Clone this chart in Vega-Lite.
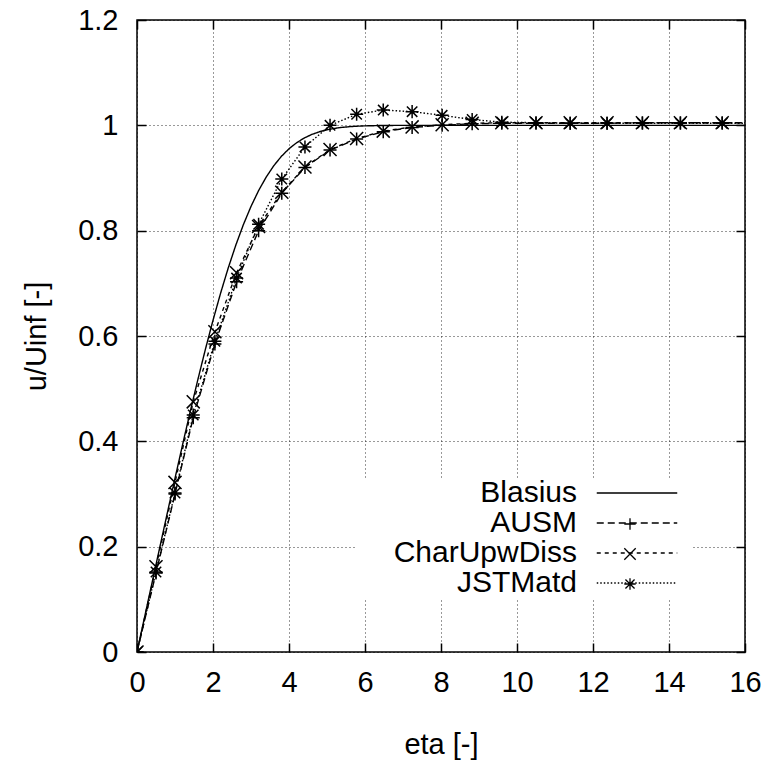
{
  "$schema": "https://vega.github.io/schema/vega-lite/v6.json",
  "width": 608,
  "height": 632,
  "autosize": {"type": "none"},
  "padding": {"left": 137, "top": 20, "right": 21, "bottom": 112},
  "background": "white",
  "config": {
    "view": {"stroke": "black", "strokeWidth": 1.5},
    "font": "Liberation Sans",
    "axis": {
      "domain": false,
      "labelFont": "Liberation Sans",
      "titleFont": "Liberation Sans",
      "labelFontSize": 29,
      "titleFontSize": 29,
      "titleFontWeight": "normal",
      "labelColor": "black",
      "titleColor": "black",
      "tickColor": "black",
      "tickWidth": 1.5,
      "tickSize": -9,
      "gridColor": "#000",
      "gridOpacity": 0.8,
      "gridDash": [1, 3],
      "gridWidth": 1
    },
    "legend": {
      "labelFont": "Liberation Sans",
      "labelColor": "black",
      "labelLimit": 0
    }
  },
  "data": {
    "values": [
      {"eta": 0, "u": 0, "series": "Blasius"},
      {"eta": 0.2, "u": 0.06641, "series": "Blasius"},
      {"eta": 0.4, "u": 0.13277, "series": "Blasius"},
      {"eta": 0.6, "u": 0.19894, "series": "Blasius"},
      {"eta": 0.8, "u": 0.26471, "series": "Blasius"},
      {"eta": 1.0, "u": 0.32979, "series": "Blasius"},
      {"eta": 1.2, "u": 0.39378, "series": "Blasius"},
      {"eta": 1.4, "u": 0.45627, "series": "Blasius"},
      {"eta": 1.6, "u": 0.51676, "series": "Blasius"},
      {"eta": 1.8, "u": 0.57477, "series": "Blasius"},
      {"eta": 2.0, "u": 0.62977, "series": "Blasius"},
      {"eta": 2.2, "u": 0.68132, "series": "Blasius"},
      {"eta": 2.4, "u": 0.72899, "series": "Blasius"},
      {"eta": 2.6, "u": 0.77246, "series": "Blasius"},
      {"eta": 2.8, "u": 0.81152, "series": "Blasius"},
      {"eta": 3.0, "u": 0.84605, "series": "Blasius"},
      {"eta": 3.2, "u": 0.87609, "series": "Blasius"},
      {"eta": 3.4, "u": 0.90177, "series": "Blasius"},
      {"eta": 3.6, "u": 0.92333, "series": "Blasius"},
      {"eta": 3.8, "u": 0.94112, "series": "Blasius"},
      {"eta": 4.0, "u": 0.95552, "series": "Blasius"},
      {"eta": 4.2, "u": 0.96696, "series": "Blasius"},
      {"eta": 4.4, "u": 0.97587, "series": "Blasius"},
      {"eta": 4.6, "u": 0.98269, "series": "Blasius"},
      {"eta": 4.8, "u": 0.98779, "series": "Blasius"},
      {"eta": 5.0, "u": 0.99155, "series": "Blasius"},
      {"eta": 5.2, "u": 0.99425, "series": "Blasius"},
      {"eta": 5.4, "u": 0.99616, "series": "Blasius"},
      {"eta": 5.6, "u": 0.99748, "series": "Blasius"},
      {"eta": 5.8, "u": 0.99838, "series": "Blasius"},
      {"eta": 6.0, "u": 0.99898, "series": "Blasius"},
      {"eta": 6.4, "u": 0.99961, "series": "Blasius"},
      {"eta": 6.8, "u": 0.99987, "series": "Blasius"},
      {"eta": 7.2, "u": 0.99996, "series": "Blasius"},
      {"eta": 8.0, "u": 1.0, "series": "Blasius"},
      {"eta": 16.0, "u": 1.0, "series": "Blasius"},

      {"eta": 0, "u": 0, "series": "AUSM"},
      {"eta": 0.5, "u": 0.150, "series": "AUSM"},
      {"eta": 1.0, "u": 0.300, "series": "AUSM"},
      {"eta": 1.48, "u": 0.445, "series": "AUSM"},
      {"eta": 2.05, "u": 0.585, "series": "AUSM"},
      {"eta": 2.62, "u": 0.703, "series": "AUSM"},
      {"eta": 3.2, "u": 0.800, "series": "AUSM"},
      {"eta": 3.81, "u": 0.871, "series": "AUSM"},
      {"eta": 4.42, "u": 0.920, "series": "AUSM"},
      {"eta": 5.08, "u": 0.953, "series": "AUSM"},
      {"eta": 5.78, "u": 0.974, "series": "AUSM"},
      {"eta": 6.48, "u": 0.988, "series": "AUSM"},
      {"eta": 7.24, "u": 0.996, "series": "AUSM"},
      {"eta": 8.03, "u": 1.000, "series": "AUSM"},
      {"eta": 8.82, "u": 1.003, "series": "AUSM"},
      {"eta": 9.6, "u": 1.004, "series": "AUSM"},
      {"eta": 10.5, "u": 1.004, "series": "AUSM"},
      {"eta": 11.4, "u": 1.004, "series": "AUSM"},
      {"eta": 12.37, "u": 1.004, "series": "AUSM"},
      {"eta": 13.3, "u": 1.005, "series": "AUSM"},
      {"eta": 14.3, "u": 1.005, "series": "AUSM"},
      {"eta": 15.4, "u": 1.005, "series": "AUSM"},
      {"eta": 16.5, "u": 1.005, "series": "AUSM"},

      {"eta": 0, "u": 0, "series": "CharUpwDiss"},
      {"eta": 0.5, "u": 0.162, "series": "CharUpwDiss"},
      {"eta": 1.0, "u": 0.322, "series": "CharUpwDiss"},
      {"eta": 1.48, "u": 0.475, "series": "CharUpwDiss"},
      {"eta": 2.05, "u": 0.608, "series": "CharUpwDiss"},
      {"eta": 2.62, "u": 0.720, "series": "CharUpwDiss"},
      {"eta": 3.2, "u": 0.808, "series": "CharUpwDiss"},
      {"eta": 3.81, "u": 0.873, "series": "CharUpwDiss"},
      {"eta": 4.42, "u": 0.921, "series": "CharUpwDiss"},
      {"eta": 5.08, "u": 0.954, "series": "CharUpwDiss"},
      {"eta": 5.78, "u": 0.975, "series": "CharUpwDiss"},
      {"eta": 6.48, "u": 0.989, "series": "CharUpwDiss"},
      {"eta": 7.24, "u": 0.997, "series": "CharUpwDiss"},
      {"eta": 8.03, "u": 1.001, "series": "CharUpwDiss"},
      {"eta": 8.82, "u": 1.004, "series": "CharUpwDiss"},
      {"eta": 9.6, "u": 1.005, "series": "CharUpwDiss"},
      {"eta": 10.5, "u": 1.005, "series": "CharUpwDiss"},
      {"eta": 11.4, "u": 1.005, "series": "CharUpwDiss"},
      {"eta": 12.37, "u": 1.005, "series": "CharUpwDiss"},
      {"eta": 13.3, "u": 1.005, "series": "CharUpwDiss"},
      {"eta": 14.3, "u": 1.005, "series": "CharUpwDiss"},
      {"eta": 15.4, "u": 1.005, "series": "CharUpwDiss"},
      {"eta": 16.5, "u": 1.005, "series": "CharUpwDiss"},

      {"eta": 0, "u": 0, "series": "JSTMatd"},
      {"eta": 0.5, "u": 0.152, "series": "JSTMatd"},
      {"eta": 1.0, "u": 0.302, "series": "JSTMatd"},
      {"eta": 1.48, "u": 0.450, "series": "JSTMatd"},
      {"eta": 2.05, "u": 0.590, "series": "JSTMatd"},
      {"eta": 2.62, "u": 0.710, "series": "JSTMatd"},
      {"eta": 3.2, "u": 0.812, "series": "JSTMatd"},
      {"eta": 3.81, "u": 0.898, "series": "JSTMatd"},
      {"eta": 4.42, "u": 0.959, "series": "JSTMatd"},
      {"eta": 5.08, "u": 1.000, "series": "JSTMatd"},
      {"eta": 5.78, "u": 1.021, "series": "JSTMatd"},
      {"eta": 6.48, "u": 1.029, "series": "JSTMatd"},
      {"eta": 7.24, "u": 1.026, "series": "JSTMatd"},
      {"eta": 8.03, "u": 1.019, "series": "JSTMatd"},
      {"eta": 8.82, "u": 1.011, "series": "JSTMatd"},
      {"eta": 9.6, "u": 1.006, "series": "JSTMatd"},
      {"eta": 10.5, "u": 1.005, "series": "JSTMatd"},
      {"eta": 11.4, "u": 1.004, "series": "JSTMatd"},
      {"eta": 12.37, "u": 1.004, "series": "JSTMatd"},
      {"eta": 13.3, "u": 1.004, "series": "JSTMatd"},
      {"eta": 14.3, "u": 1.004, "series": "JSTMatd"},
      {"eta": 15.4, "u": 1.004, "series": "JSTMatd"},
      {"eta": 16.5, "u": 1.004, "series": "JSTMatd"}
    ]
  },
  "layer": [
    {
      "mark": {"type": "rect", "fill": "white", "stroke": null},
      "encoding": {
        "x": {"datum": 5.74, "type": "quantitative", "axis": null},
        "x2": {"datum": 14.63},
        "y": {"datum": 0.33, "type": "quantitative", "axis": null},
        "y2": {"datum": 0.099}
      }
    },
    {
      "mark": {"type": "line", "color": "black", "strokeWidth": 1.4, "clip": true},
      "encoding": {
        "x": {
          "field": "eta", "type": "quantitative",
          "scale": {"domain": [0, 16], "nice": false, "zero": false},
          "axis": {"orient": "bottom", "values": [0, 2, 4, 6, 8, 10, 12, 14, 16], "grid": true, "title": "eta [-]", "labelPadding": 25, "titlePadding": 33, "labelFlush": false}
        },
        "y": {
          "field": "u", "type": "quantitative",
          "scale": {"domain": [0, 1.2], "nice": false, "zero": false},
          "axis": {"orient": "left", "values": [0, 0.2, 0.4, 0.6, 0.8, 1, 1.2], "format": "~g", "grid": true, "title": "u/Uinf [-]", "labelPadding": 28, "titlePadding": 26, "labelFlush": false}
        },
        "strokeDash": {
          "field": "series", "type": "nominal",
          "scale": {"domain": ["Blasius", "AUSM", "CharUpwDiss", "JSTMatd"], "range": [[1, 0], [7, 4], [4, 4], [1.5, 2]]},
          "legend": {
            "title": null,
            "orient": "none",
            "legendX": 485,
            "legendY": 458,
            "symbolType": "M-6,0L6,0",
            "symbolSize": 180,
            "symbolStrokeWidth": 1.4,
            "symbolStrokeColor": "black",
            "symbolFillColor": "transparent",
            "labelAlign": "right",
            "labelOffset": -75,
            "labelFontSize": 30,
            "rowPadding": 0,
            "padding": 0
          }
        }
      }
    },
    {
      "transform": [{"filter": "datum.series !== 'Blasius'"}],
      "mark": {"type": "point", "filled": false, "stroke": "black", "strokeWidth": 1.5, "size": 170, "clip": true, "opacity": 1},
      "encoding": {
        "x": {"field": "eta", "type": "quantitative", "axis": null},
        "y": {"field": "u", "type": "quantitative", "axis": null},
        "shape": {
          "field": "series", "type": "nominal",
          "scale": {"domain": ["AUSM", "CharUpwDiss", "JSTMatd"], "range": ["M-1,0L1,0M0,-1L0,1", "M-1,-1L1,1M-1,1L1,-1", "M-1,0L1,0M0,-1L0,1M-0.8,-0.8L0.8,0.8M-0.8,0.8L0.8,-0.8"]},
          "legend": {
            "title": null,
            "orient": "none",
            "legendX": 478,
            "legendY": 489,
            "symbolSize": 130,
            "symbolStrokeWidth": 1.3,
            "symbolStrokeColor": "black",
            "symbolFillColor": "transparent",
            "labelExpr": "'\u00a0'",
            "labelFontSize": 30,
            "rowPadding": 0,
            "padding": 0,
            "zindex": 2
          }
        }
      }
    },
    {
      "mark": {"type": "point", "opacity": 0},
      "encoding": {
        "x": {"field": "eta", "type": "quantitative", "axis": {"orient": "top", "values": [0, 2, 4, 6, 8, 10, 12, 14, 16], "labels": false, "title": null, "grid": false}},
        "y": {"field": "u", "type": "quantitative", "axis": {"orient": "right", "values": [0, 0.2, 0.4, 0.6, 0.8, 1, 1.2], "labels": false, "title": null, "grid": false}}
      }
    }
  ],
  "resolve": {"axis": {"x": "independent", "y": "independent"}}
}
